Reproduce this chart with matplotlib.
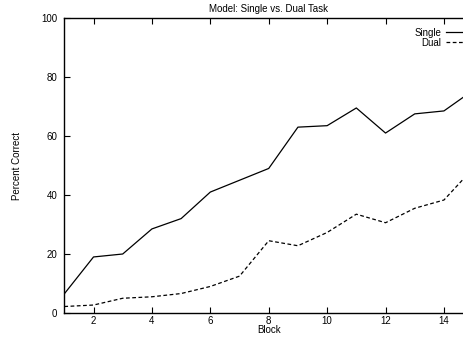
import matplotlib
matplotlib.use("Agg")
import matplotlib.pyplot as plt

plt.rcParams['font.family'] = ['Liberation Sans', 'DejaVu Sans']

# ================== 数据 ==================
block = [1, 2, 3, 4, 5, 6, 7, 8, 9, 10, 11, 12, 13, 14, 15]
single = [6.5, 19.0, 20.0, 28.5, 32.0, 41.0, 45.0, 49.0, 63.0, 63.5, 69.5, 61.0, 67.5, 68.5, 75.5]
dual = [2.2, 2.7, 5.0, 5.5, 6.6, 9.0, 12.5, 24.5, 22.8, 27.3, 33.5, 30.6, 35.5, 38.3, 49.0]
x_ticks = [2, 4, 6, 8, 10, 12, 14]
y_ticks = [0, 20, 40, 60, 80, 100]

fig = plt.figure(figsize=(4.63, 3.37), dpi=100)
# 右侧被裁掉，坐标轴延伸到图外
ax = fig.add_axes([0.1389, 0.0712, 0.883, 0.8754])

ax.plot(block, single, color='black', lw=0.9, label='Single')
ax.plot(block, dual, color='black', lw=0.9, linestyle=(0, (3, 2)), label='Dual')

ax.set_xlim(1, 15)
ax.set_ylim(0, 100)
ax.set_xticks(x_ticks)
ax.set_yticks(y_ticks)
ax.tick_params(direction='in', length=4, width=0.8, labelsize=7,
               top=True, right=False)
ax.tick_params(axis='x', pad=2.5)
ax.tick_params(axis='y', pad=5)
for s in ax.spines.values():
    s.set_linewidth(1.0)
ax.spines['right'].set_visible(False)

ax.set_title("Model: Single vs. Dual Task", fontsize=7, pad=4)
ax.set_xlabel("Block", fontsize=7, labelpad=-1)
ax.set_ylabel("Percent Correct", fontsize=7, labelpad=14)

ax.legend(loc='upper right', bbox_to_anchor=(1.005, 1.0), markerfirst=False,
          frameon=False, fontsize=7, handlelength=2.0, handletextpad=0.5,
          labelspacing=0.0, borderpad=0.5)

fig.savefig("out.png", dpi=100)
